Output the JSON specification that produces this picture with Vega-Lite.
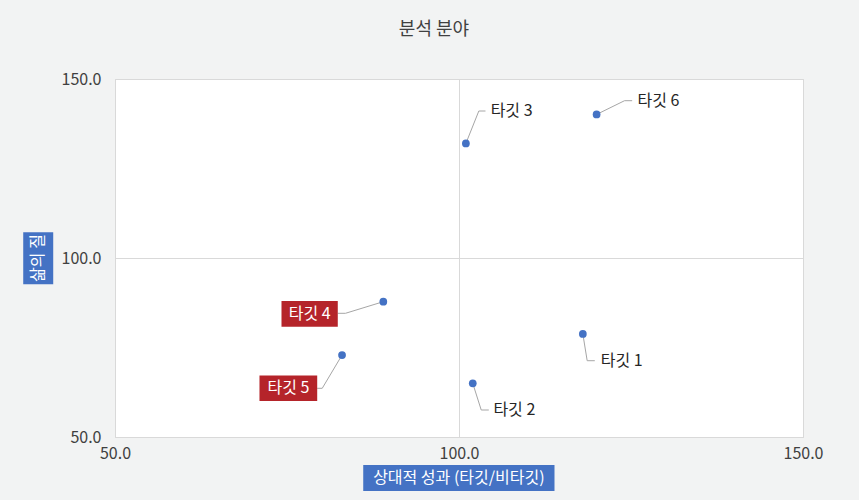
{
  "$schema": "https://vega.github.io/schema/vega-lite/v6.json",
  "width": 688,
  "height": 358,
  "autosize": {"type": "none"},
  "padding": {"left": 115, "top": 79, "right": 56, "bottom": 63},
  "background": "#f2f3f3",
  "title": {
    "text": "분석 분야",
    "anchor": "middle",
    "frame": "group",
    "dx": -25,
    "offset": 18,
    "baseline": "alphabetic",
    "fontSize": 18,
    "fontWeight": "normal",
    "color": "#404040",
    "font": "Noto Sans CJK KR"
  },
  "config": {
    "view": {"fill": "white", "stroke": "#d9d9d9"},
    "axis": {
      "labelFont": "Noto Sans CJK KR",
      "labelFontSize": 16,
      "labelColor": "#404040",
      "labelFlush": false,
      "domain": false,
      "ticks": false,
      "gridColor": "#d9d9d9",
      "gridWidth": 1,
      "title": null
    },
    "text": {"font": "Noto Sans CJK KR"}
  },
  "datasets": {
    "points": [
      {"name": "타깃 1", "x": 118, "y": 78.8},
      {"name": "타깃 2", "x": 102, "y": 65},
      {"name": "타깃 3", "x": 101, "y": 132},
      {"name": "타깃 4", "x": 89, "y": 87.8},
      {"name": "타깃 5", "x": 83, "y": 72.9},
      {"name": "타깃 6", "x": 120, "y": 140.1}
    ],
    "leaders": [
      {"name": "타깃 1", "ord": 0, "x": 118, "y": 78.8},
      {"name": "타깃 1", "ord": 1, "x": 118.63, "y": 71.31},
      {"name": "타깃 1", "ord": 2, "x": 119.74, "y": 71.31},
      {"name": "타깃 2", "ord": 0, "x": 102, "y": 65},
      {"name": "타깃 2", "ord": 1, "x": 103.23, "y": 57.54},
      {"name": "타깃 2", "ord": 2, "x": 104.33, "y": 57.54},
      {"name": "타깃 3", "ord": 0, "x": 101, "y": 132},
      {"name": "타깃 3", "ord": 1, "x": 102.88, "y": 141.06},
      {"name": "타깃 3", "ord": 2, "x": 103.85, "y": 141.06},
      {"name": "타깃 4", "ord": 0, "x": 89, "y": 87.8},
      {"name": "타깃 4", "ord": 1, "x": 83.5, "y": 84.55},
      {"name": "타깃 4", "ord": 2, "x": 82.38, "y": 84.55},
      {"name": "타깃 5", "ord": 0, "x": 83, "y": 72.9},
      {"name": "타깃 5", "ord": 1, "x": 80.12, "y": 63.6},
      {"name": "타깃 5", "ord": 2, "x": 79.39, "y": 63.6},
      {"name": "타깃 6", "ord": 0, "x": 120, "y": 140.1},
      {"name": "타깃 6", "ord": 1, "x": 124.06, "y": 143.94},
      {"name": "타깃 6", "ord": 2, "x": 125.17, "y": 143.94}
    ],
    "plainLabels": [
      {"name": "타깃 1", "x": 120.6, "y": 71.31},
      {"name": "타깃 2", "x": 105.0, "y": 57.54},
      {"name": "타깃 3", "x": 104.6, "y": 141.06},
      {"name": "타깃 6", "x": 125.95, "y": 143.94}
    ],
    "boxLabels": [
      {"name": "타깃 4", "x": 74.2, "x2": 82.38, "y": 88.0, "y2": 80.8, "cx": 78.29, "cy": 84.4},
      {"name": "타깃 5", "x": 71.0, "x2": 79.39, "y": 67.2, "y2": 60.06, "cx": 75.2, "cy": 63.6}
    ],
    "xTitle": [
      {"text": "상대적 성과 (타깃/비타깃)", "x": 86.08, "x2": 113.88, "y": 42.2, "y2": 34.9, "cx": 99.98, "cy": 38.5}
    ],
    "yTitle": [
      {"text": "삶의 질", "x": 36.66, "x2": 41.02, "y": 107.2, "y2": 92.7, "cx": 38.84, "cy": 100}
    ]
  },
  "encoding": {
    "x": {
      "field": "x",
      "type": "quantitative",
      "scale": {"domain": [50, 150], "nice": false, "zero": false},
      "axis": {"values": [50, 100, 150], "format": ".1f", "labelPadding": 8, "grid": true}
    },
    "y": {
      "field": "y",
      "type": "quantitative",
      "scale": {"domain": [50, 150], "nice": false, "zero": false},
      "axis": {"values": [50, 100, 150], "format": ".1f", "labelPadding": 14, "grid": true}
    }
  },
  "layer": [
    {
      "data": {"name": "leaders"},
      "mark": {"type": "line", "color": "#a6a6a6", "strokeWidth": 1},
      "encoding": {
        "detail": {"field": "name"},
        "order": {"field": "ord", "type": "quantitative"}
      }
    },
    {
      "data": {"name": "points"},
      "mark": {"type": "point", "filled": true, "size": 60, "color": "#4472c4", "opacity": 1}
    },
    {
      "data": {"name": "plainLabels"},
      "mark": {"type": "text", "align": "left", "baseline": "middle", "fontSize": 16, "color": "#262626"},
      "encoding": {"text": {"field": "name"}}
    },
    {
      "data": {"name": "boxLabels"},
      "mark": {"type": "rect", "color": "#b5242a"},
      "encoding": {
        "x2": {"field": "x2"},
        "y2": {"field": "y2"}
      }
    },
    {
      "data": {"name": "boxLabels"},
      "mark": {"type": "text", "align": "center", "baseline": "middle", "fontSize": 16, "color": "white"},
      "encoding": {
        "x": {"field": "cx", "type": "quantitative"},
        "y": {"field": "cy", "type": "quantitative"},
        "text": {"field": "name"}
      }
    },
    {
      "data": {"name": "xTitle"},
      "mark": {"type": "rect", "color": "#4472c4"},
      "encoding": {
        "x2": {"field": "x2"},
        "y2": {"field": "y2"}
      }
    },
    {
      "data": {"name": "xTitle"},
      "mark": {"type": "text", "align": "center", "baseline": "middle", "fontSize": 16, "color": "white"},
      "encoding": {
        "x": {"field": "cx", "type": "quantitative"},
        "y": {"field": "cy", "type": "quantitative"},
        "text": {"field": "text"}
      }
    },
    {
      "data": {"name": "yTitle"},
      "mark": {"type": "rect", "color": "#4472c4"},
      "encoding": {
        "x2": {"field": "x2"},
        "y2": {"field": "y2"}
      }
    },
    {
      "data": {"name": "yTitle"},
      "mark": {"type": "text", "align": "center", "baseline": "middle", "fontSize": 16, "color": "white", "angle": 270},
      "encoding": {
        "x": {"field": "cx", "type": "quantitative"},
        "y": {"field": "cy", "type": "quantitative"},
        "text": {"field": "text"}
      }
    }
  ]
}
